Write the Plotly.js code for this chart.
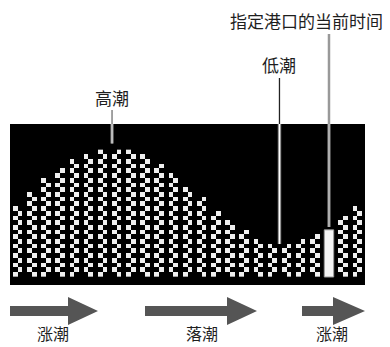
<!DOCTYPE html>
<html><head><meta charset="utf-8">
<script src="https://cdn.plot.ly/plotly-3.0.1.min.js"></script>
<style>html,body{margin:0;padding:0;background:#fff;}#chart{width:390px;height:347px;}</style>
</head><body><div id="chart"></div>
<script>
// ---- data ----
const columnHeights = [15,18,21,23,25,26,27,27,27,26,24,22,19,17,14,12,10,8,7,7,8,9,10,13,15];
const currentIndex = 22;   // column showing the current time at the reference port
const highIndex = 7;       // high tide column
const lowPair = [18, 19];  // low tide between these columns
const labelCurrent = '指定港口的当前时间';
const labelLow = '低潮';
const labelHigh = '高潮';
const phaseLabels = ['涨潮', '落潮', '涨潮'];

// ---- layout helpers ----
const W = 390, H = 347;
const CELL = 3;
const nCells = columnHeights.length * CELL - 1;
const maxRows = Math.max(...columnHeights);
const xRange = [-1.136, 74.136];
const yRange = [-2.196, 31.94];
const xDom = [10 / W, 365 / W];
const yDom = [(H - 285) / H, (H - 124) / H];
const pX = px => px / W;
const pY = py => 1 - py / H;
const dY = y => yDom[0] + (y - yRange[0]) / (yRange[1] - yRange[0]) * (yDom[1] - yDom[0]);

const xs = [...Array(nCells).keys()];
const ys = [...Array(maxRows).keys()];
const z = ys.map(r => xs.map(c => {
  const k = Math.floor(c / CELL);
  if (c % CELL === 2 || k === currentIndex) return null;
  if (r >= columnHeights[k]) return null;
  return ((c + r) % 2 === 0) ? 1 : null;
}));

const traces = [
  {type: 'heatmap', x: xs, y: ys, z: z, zmin: 0, zmax: 1,
   colorscale: [[0, '#efefef'], [1, '#efefef']], showscale: false, hoverinfo: 'skip'},
  {type: 'bar', x: [currentIndex * CELL + 0.5], y: [columnHeights[currentIndex]], base: [-0.5], width: [2],
   marker: {color: '#f4f4f4', line: {color: '#9a9a9a', width: 1}}, hoverinfo: 'skip'}
];

const lowX = (lowPair[0] * CELL + 1 + lowPair[1] * CELL) / 2;
const lowTop = columnHeights[lowPair[0]] - 0.5;
const highX = highIndex * CELL - 0.5;
const highTop = columnHeights[highIndex] - 0.5 + 1.3;
const curX = currentIndex * CELL + 0.5;
const curTop = columnHeights[currentIndex] - 0.5 + 0.6;
const plotTop = yDom[1];

function vline(x, y0, y1, color, width) {
  return {type: 'line', xref: 'x', yref: 'paper', x0: x, x1: x, y0: y0, y1: y1, line: {color: color, width: width}};
}

const shapes = [
  // current time
  vline(curX, pY(34), plotTop, '#999999', 2.5),
  vline(curX, plotTop, dY(curTop), '#9a9a9a', 3),
  vline(curX, plotTop, dY(curTop), '#c4c4c4', 1),
  // low tide
  vline(lowX, pY(78), plotTop, '#222222', 1.3),
  vline(lowX, plotTop, dY(lowTop), '#777777', 3.5),
  vline(lowX, plotTop, dY(lowTop), '#ffffff', 1.5),
  // high tide
  vline(highX, pY(110), plotTop, '#8c8c8c', 1.6),
  vline(highX, plotTop, dY(highTop), '#999999', 3),
  vline(highX, plotTop, dY(highTop), '#dddddd', 1)
];

// phase arrows (tail x, head base x, tip x) in pixels
const arrows = [[10, 68, 98], [145, 227, 257], [302, 333, 365]];
arrows.forEach(a => {
  const [x0, xh, xt] = a;
  const path = `M ${pX(x0)},${pY(306)} L ${pX(xh)},${pY(306)} L ${pX(xh)},${pY(297)} L ${pX(xt)},${pY(311)} ` +
               `L ${pX(xh)},${pY(325)} L ${pX(xh)},${pY(316)} L ${pX(x0)},${pY(316)} Z`;
  shapes.push({type: 'path', xref: 'paper', yref: 'paper', path: path,
               fillcolor: '#555555', line: {width: 0}});
});

const font = {family: 'Noto Sans CJK SC', size: 17, color: '#1e1e1e'};
function label(text, cx, cy, size) {
  return {text: text, xref: 'paper', yref: 'paper', x: pX(cx), y: pY(cy),
          xanchor: 'center', yanchor: 'middle', showarrow: false,
          font: Object.assign({}, font, size ? {size: size} : {})};
}
const annotations = [
  label(labelCurrent, 306, 21),
  label(labelLow, 279, 64),
  label(labelHigh, 112, 97),
  label(phaseLabels[0], 53, 333, 16),
  label(phaseLabels[1], 202, 333, 16),
  label(phaseLabels[2], 332, 333, 16)
];

const layout = {
  width: W, height: H,
  margin: {l: 0, r: 0, t: 0, b: 0},
  paper_bgcolor: '#ffffff', plot_bgcolor: '#000000',
  showlegend: false,
  xaxis: {domain: xDom, range: xRange, showgrid: false, zeroline: false, showticklabels: false, ticks: '', showline: false, fixedrange: true},
  yaxis: {domain: yDom, range: yRange, showgrid: false, zeroline: false, showticklabels: false, ticks: '', showline: false, fixedrange: true},
  shapes: shapes,
  annotations: annotations,
  bargap: 0
};

Plotly.newPlot('chart', traces, layout, {displayModeBar: false, staticPlot: true});
</script>
</body></html>
